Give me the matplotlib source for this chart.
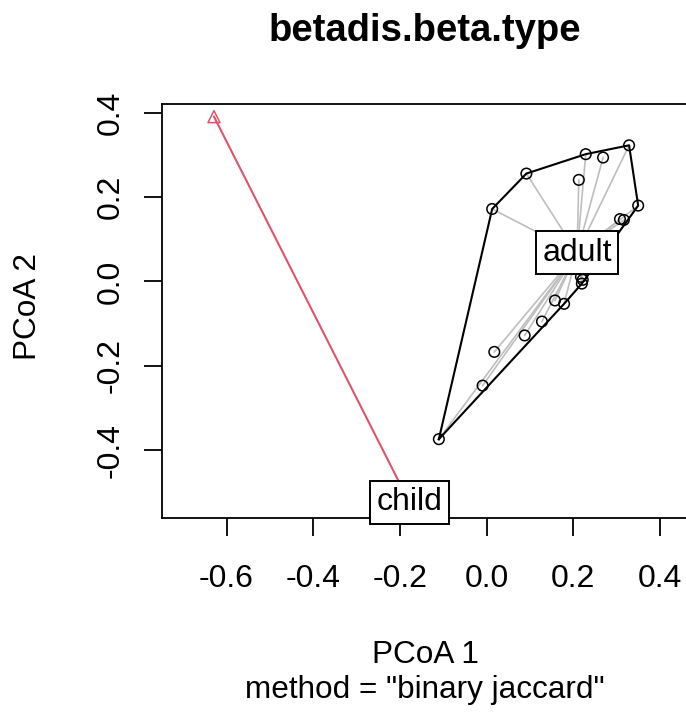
import numpy as np
import matplotlib
matplotlib.use("Agg")
import matplotlib.pyplot as plt

plt.rcParams['font.family'] = ['Liberation Sans', 'DejaVu Sans']

# PCoA scores
adult_x = [0.329, 0.229, 0.269, 0.092, 0.213, 0.350, 0.013, 0.308, 0.317, 0.218,
           0.222, 0.220, 0.158, 0.179, 0.128, 0.088, 0.018, -0.009, -0.110]
adult_y = [0.323, 0.302, 0.294, 0.256, 0.241, 0.180, 0.172, 0.148, 0.146, 0.011,
           0.004, -0.005, -0.045, -0.053, -0.095, -0.128, -0.167, -0.247, -0.374]
child_x = [-0.629]
child_y = [0.391]

groups = ["adult", "child"]
centroid_x = [0.209, -0.178]
centroid_y = [0.068, -0.524]

x_ticks = [-0.6, -0.4, -0.2, 0.0, 0.2, 0.4]
y_ticks = [-0.4, -0.2, 0.0, 0.2, 0.4]


def convex_hull(xs, ys):
    pts = sorted(set(zip(xs, ys)))
    if len(pts) < 3:
        return pts

    def cross(o, a, b):
        return (a[0] - o[0]) * (b[1] - o[1]) - (a[1] - o[1]) * (b[0] - o[0])

    lower, upper = [], []
    for p in pts:
        while len(lower) >= 2 and cross(lower[-2], lower[-1], p) <= 0:
            lower.pop()
        lower.append(p)
    for p in reversed(pts):
        while len(upper) >= 2 and cross(upper[-2], upper[-1], p) <= 0:
            upper.pop()
        upper.append(p)
    return lower[:-1] + upper[:-1]


fig = plt.figure(figsize=(6.86, 7.13), dpi=100)
ax = fig.add_axes([162 / 686, 1 - 518 / 713, 526 / 686, 414 / 713])

# segments from each sample to its group centroid
for x, y in zip(adult_x, adult_y):
    ax.plot([x, centroid_x[0]], [y, centroid_y[0]], color="#BEBEBE", lw=1.2, zorder=1)
for x, y in zip(child_x, child_y):
    ax.plot([x, centroid_x[1]], [y, centroid_y[1]], color="#DF536B", lw=1.5, zorder=1)

# hull around adult samples
hull = convex_hull(adult_x, adult_y)
hx = [p[0] for p in hull] + [hull[0][0]]
hy = [p[1] for p in hull] + [hull[0][1]]
ax.plot(hx, hy, color="black", lw=1.5, zorder=2)

ax.scatter(adult_x, adult_y, s=58, facecolors="none", edgecolors="black", linewidths=1.1, zorder=3)
ax.scatter(child_x, child_y, s=75, marker="^", facecolors="none", edgecolors="#DF536B",
           linewidths=1.1, zorder=3)

# centroid labels
for g, cx, cy in zip(groups, centroid_x, centroid_y):
    ax.text(cx, cy, g, fontsize=23, ha="center", va="center", zorder=5, clip_on=False,
            bbox=dict(boxstyle="square,pad=0.2", facecolor="white", edgecolor="black", lw=1.4))

ax.set_xlim(-0.749, 0.465)
ax.set_ylim(-0.561, 0.421)
ax.set_xticks(x_ticks)
ax.set_xticklabels([f"{t:.1f}" for t in x_ticks])
ax.set_yticks(y_ticks)
ax.set_yticklabels([f"{t:.1f}" for t in y_ticks], rotation=90, va="center")
ax.tick_params(axis="both", labelsize=23, length=13, width=1.3)
ax.tick_params(axis="x", pad=20)
ax.tick_params(axis="y", pad=13)
for s in ax.spines.values():
    s.set_linewidth(1.3)

fig.text(28 / 686, 1 - 306 / 713, "PCoA 2", fontsize=22.7, rotation=90, ha="center", va="center")
fig.text(425 / 686, 1 - 655 / 713, "PCoA 1", fontsize=22.7, ha="center", va="center")
fig.text(425 / 686, 1 - 690 / 713, 'method = "binary jaccard"', fontsize=22.7, ha="center", va="center")
fig.text(425 / 686, 1 - 31 / 713, "betadis.beta.type", fontsize=27.5, fontweight="bold",
         ha="center", va="center")

fig.savefig("out.png", dpi=100)
